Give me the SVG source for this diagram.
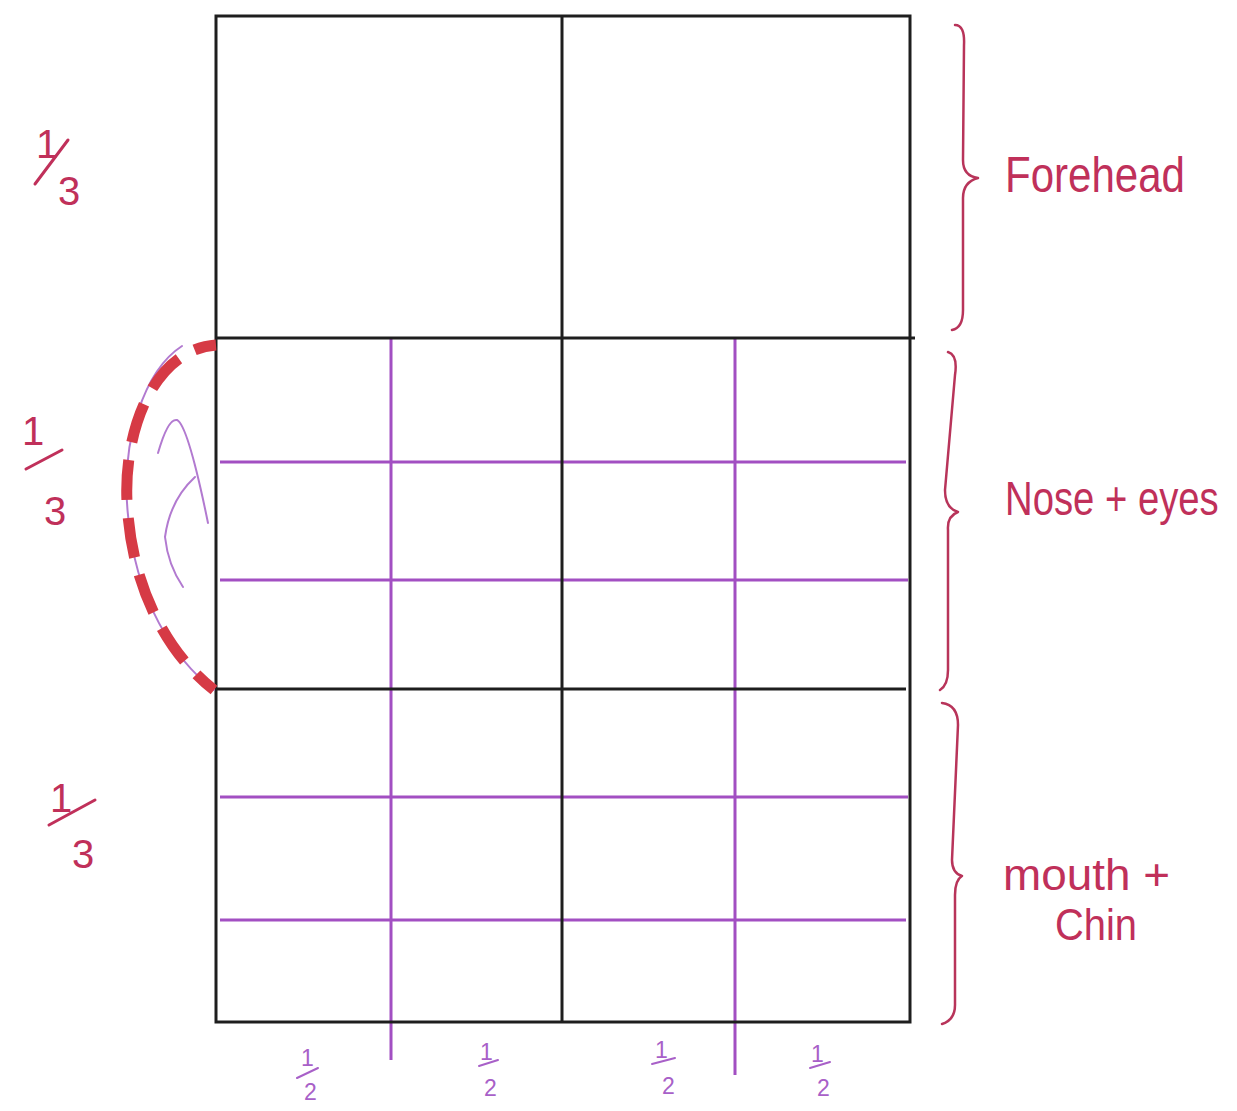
<svg xmlns="http://www.w3.org/2000/svg" width="1237" height="1111" viewBox="0 0 1237 1111">
<style>
.blk{stroke:#1e1e1e;stroke-width:3;fill:none}
.pur{stroke:#a24fc2;stroke-width:3;fill:none}
.purl{stroke:#b27ad0;stroke-width:2;fill:none;stroke-linecap:round}
.brace{stroke:#b8345a;stroke-width:2.5;fill:none;stroke-linecap:round;stroke-linejoin:round}
.lbl{fill:#c0305a;font-family:"Liberation Sans","DejaVu Sans",sans-serif}
.frac{fill:#c0305a;font-family:"Liberation Sans","DejaVu Sans",sans-serif;font-size:40px}
.half{fill:#a860c8;font-family:"Liberation Sans","DejaVu Sans",sans-serif;font-size:23px}
.bar{stroke:#c0305a;stroke-width:3;stroke-linecap:round}
.hbar{stroke:#a860c8;stroke-width:2;stroke-linecap:round}
</style>
<rect width="1237" height="1111" fill="#ffffff"/>
<g id="grid">
<line class="pur" x1="391" y1="338" x2="391" y2="1060"/>
<line class="pur" x1="735" y1="338" x2="735" y2="1075"/>
<line class="pur" x1="220" y1="462" x2="906" y2="462"/>
<line class="pur" x1="220" y1="580" x2="908" y2="580"/>
<line class="pur" x1="220" y1="797" x2="908" y2="797"/>
<line class="pur" x1="220" y1="920" x2="906" y2="920"/>
<rect class="blk" x="216" y="16" width="694" height="1006"/>
<line class="blk" x1="562" y1="16" x2="562" y2="1022"/>
<line class="blk" x1="216" y1="338" x2="915" y2="338"/>
<line class="blk" x1="216" y1="689" x2="906" y2="689"/>
</g>
<g id="arc">
<path class="purl" d="M182,346 C145,370 120,440 128,515 C135,600 175,660 214,690"/>
<path class="purl" d="M158,453 Q168,418 177,420 Q188,425 208,523"/>
<path class="purl" d="M195,477 Q170,500 165,537 Q168,565 183,587"/>
<path d="M216,345 C150,350 120,440 128,515 C135,600 175,660 214,690" fill="none" stroke="#d63a45" stroke-width="11" stroke-dasharray="40 18" stroke-dashoffset="18"/>
</g>
<g id="braces">
<path class="brace" d="M955,25 Q965,25 964,45 L963,160 Q963,176 978,178 Q963,182 963,198 L963,310 Q963,328 952,330"/>
<path class="brace" d="M948,352 Q958,355 955,375 L945,490 Q945,508 958,512 Q947,516 948,530 L948,670 Q948,685 940,690"/>
<path class="brace" d="M942,703 Q958,705 958,725 L952,860 Q952,873 962,876 Q955,880 955,895 L955,1005 Q955,1020 942,1024"/>
</g>
<g id="labels-right">
<text class="lbl" x="1005" y="192" font-size="50" textLength="180" lengthAdjust="spacingAndGlyphs">Forehead</text>
<text class="lbl" transform="translate(1005,515) scale(0.87,1.08)" font-size="44">Nose + eyes</text>
<text class="lbl" x="1003" y="890" font-size="44" textLength="167" lengthAdjust="spacingAndGlyphs">mouth +</text>
<text class="lbl" x="1055" y="940" font-size="44" textLength="82" lengthAdjust="spacingAndGlyphs">Chin</text>
</g>
<g id="labels-left">
<text class="frac" x="36" y="158">1</text>
<line class="bar" x1="35" y1="184" x2="68" y2="140"/>
<text class="frac" x="58" y="205">3</text>
<text class="frac" x="22" y="445">1</text>
<line class="bar" x1="26" y1="469" x2="62" y2="450"/>
<text class="frac" x="44" y="525">3</text>
<text class="frac" x="50" y="812">1</text>
<line class="bar" x1="49" y1="825" x2="95" y2="800"/>
<text class="frac" x="72" y="868">3</text>
</g>
<g id="labels-bottom">
<text class="half" x="301" y="1066">1</text>
<line class="hbar" x1="297" y1="1078" x2="318" y2="1068"/>
<text class="half" x="304" y="1100">2</text>
<text class="half" x="480" y="1060">1</text>
<line class="hbar" x1="479" y1="1066" x2="498" y2="1060"/>
<text class="half" x="484" y="1096">2</text>
<text class="half" x="655" y="1058">1</text>
<line class="hbar" x1="652" y1="1064" x2="675" y2="1058"/>
<text class="half" x="662" y="1094">2</text>
<text class="half" x="811" y="1062">1</text>
<line class="hbar" x1="810" y1="1068" x2="830" y2="1062"/>
<text class="half" x="817" y="1096">2</text>
</g>
</svg>
